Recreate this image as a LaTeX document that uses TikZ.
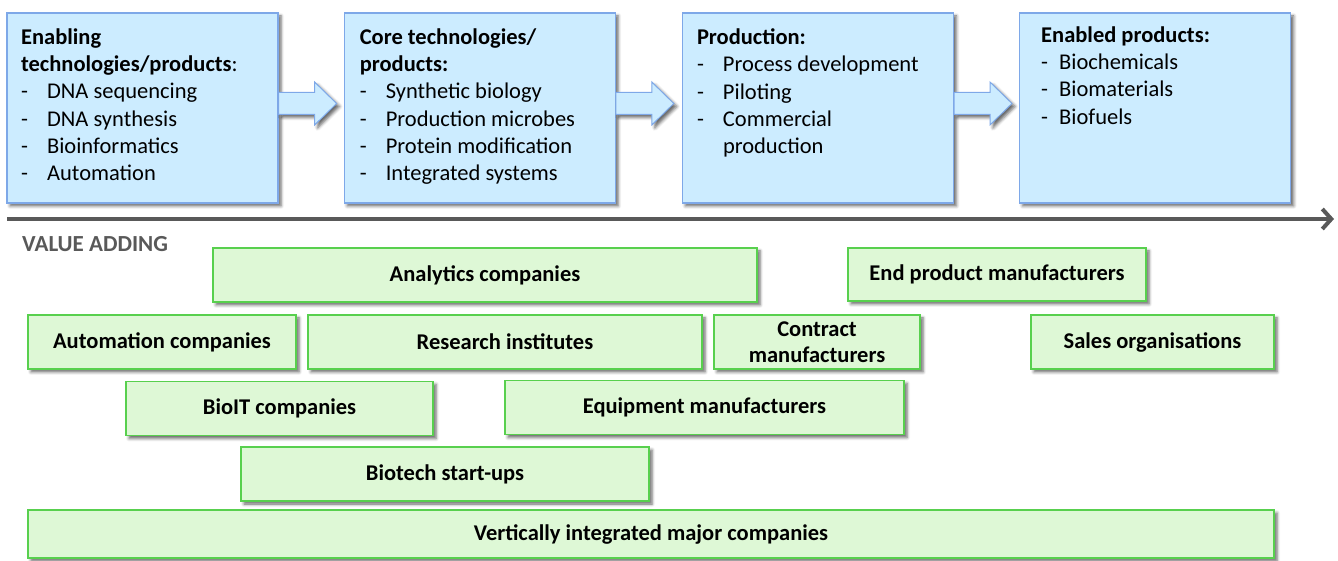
\documentclass[tikz,border=0pt]{standalone}
\usepackage{fontspec}
\setmainfont{Carlito}
\usetikzlibrary{positioning,calc,arrows.meta,shadows.blur}

\definecolor{boxblue}{RGB}{204,236,255}
\definecolor{lineblue}{RGB}{126,168,232}
\definecolor{boxgreen}{RGB}{222,248,214}
\definecolor{linegreen}{RGB}{88,208,78}
\definecolor{valuegrey}{RGB}{89,89,89}

\newcommand{\dashitem}[1]{\makebox[26pt][l]{-}#1}

\tikzset{
  boxshadow/.style={blur shadow={shadow xshift=3pt,shadow yshift=-3pt,shadow blur radius=3pt,shadow opacity=60}},
  bluebox/.style={draw=lineblue,fill=boxblue,line width=1.2pt,minimum width=271pt,minimum height=190pt,inner sep=0pt,boxshadow},
  boxtext/.style={anchor=north west,align=left,inner sep=0pt,font=\fontsize{22.5}{27.3}\selectfont},
  flowarrow/.style={draw=lineblue,fill=boxblue,line width=1pt,boxshadow},
  greenbox/.style={draw=linegreen,fill=boxgreen,line width=1.2pt,minimum height=54pt,inner sep=0pt,align=center,
    font=\fontsize{22.5}{26}\selectfont\bfseries,boxshadow},
  valuearrow/.style={draw=valuegrey,line width=4pt,-{Straight Barb[length=9pt,width=20pt]}}
}

\begin{document}
\begin{tikzpicture}[x=1pt,y=1pt]
  \useasboundingbox (0,0) rectangle (1338,560);
  %value chain boxes
  \node[bluebox] (b1) at (142.5,452) {};
  \node[bluebox,right=65pt of b1] (b2) {};
  \node[bluebox,right=66pt of b2] (b3) {};
  \node[bluebox,right=65pt of b3] (b4) {};
  %block arrows between the boxes
  \draw[flowarrow] ($(b1.east)+(0,15.5)$) -- ++(36,0) -- ++(0,10.5) -- ++(22,-21.5) -- ++(-22,-21.5) -- ++(0,10.5) -- ++(-36,0) -- cycle;
  \draw[flowarrow] ($(b2.east)+(0,15.5)$) -- ++(36,0) -- ++(0,10.5) -- ++(22,-21.5) -- ++(-22,-21.5) -- ++(0,10.5) -- ++(-36,0) -- cycle;
  \draw[flowarrow] ($(b3.east)+(0,15.5)$) -- ++(36,0) -- ++(0,10.5) -- ++(22,-21.5) -- ++(-22,-21.5) -- ++(0,10.5) -- ++(-36,0) -- cycle;
  %box contents
  \node[boxtext] (b1txt) at ($(b1.north west)+(14.5,-16)$) {\textbf{Enabling}\\\textbf{technologies/products}:\\
    \dashitem{DNA sequencing}\\\dashitem{DNA synthesis}\\\dashitem{Bioinformatics}\\\dashitem{Automation}};
  \node[boxtext] (b2txt) at ($(b2.north west)+(16,-16)$) {\textbf{Core technologies/}\\\textbf{products:}\\
    \dashitem{Synthetic biology}\\\dashitem{Production microbes}\\\dashitem{Protein modification}\\\dashitem{Integrated systems}};
  \node[boxtext] (b3txt) at ($(b3.north west)+(15,-16)$) {\textbf{Production:}\\
    \dashitem{Process development}\\\dashitem{Piloting}\\\dashitem{Commercial}\\\hspace*{26pt}production};
  \node[boxtext] (b4txt) at ($(b4.north west)+(22,-14)$) {\textbf{Enabled products:}\\
    \makebox[18pt][l]{-}Biochemicals\\\makebox[18pt][l]{-}Biomaterials\\\makebox[18pt][l]{-}Biofuels};
  %value adding axis
  \coordinate (vstart) at (7,341);
  \coordinate (vend) at (1334,341);
  \draw[valuearrow] (vstart) -- (vend);
  \node[anchor=west,inner sep=0pt,text=valuegrey,font=\fontsize{23}{27}\selectfont\bfseries] (vlabel) at (22,316) {VALUE ADDING};
  %actors along the chain
  \node[greenbox,minimum width=544pt] (ana) at (485,285) {Analytics companies};
  \node[greenbox,minimum width=298pt,minimum height=53pt] (endp) at (997,285.5) {End product manufacturers};
  \node[greenbox,minimum width=268pt] (auto) at (162,218) {Automation companies};
  \node[greenbox,minimum width=394pt] (res) at (505,218) {Research institutes};
  \node[greenbox,minimum width=206pt] (contr) at (817,218) {Contract\\manufacturers};
  \node[greenbox,minimum width=243pt] (sales) at (1152.5,218) {Sales organisations};
  \node[greenbox,minimum width=307pt] (bioit) at (279.5,151.5) {BioIT companies};
  \node[greenbox,minimum width=399pt] (equip) at (704.5,152.5) {Equipment manufacturers};
  \node[greenbox,minimum width=408pt] (start) at (445,86) {Biotech start-ups};
  \node[greenbox,minimum width=1246pt,minimum height=48pt] (vert) at (651,26) {Vertically integrated major companies};
\end{tikzpicture}
\end{document}
